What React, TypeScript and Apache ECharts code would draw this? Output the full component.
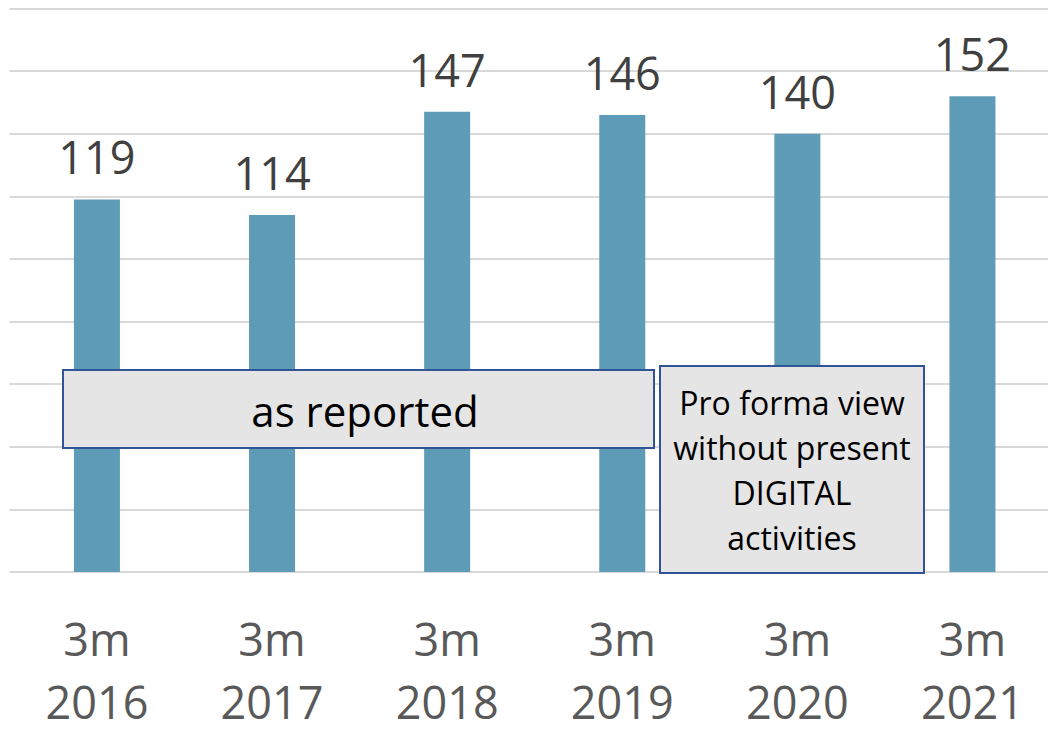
import React, { useEffect, useRef } from "react";
import * as echarts from "echarts";

const periods = ["3m", "3m", "3m", "3m", "3m", "3m"];
const years = ["2016", "2017", "2018", "2019", "2020", "2021"];
const values = [119, 114, 147, 146, 140, 152];
const yMax = 180;
const yInterval = 20;
const boxAsReported = "as reported";
const boxProForma = "Pro forma view\nwithout present\nDIGITAL\nactivities";

const categories = years.map((y, i) => `${periods[i]}\n${y}`);

const FONT = "'Open Sans', 'Noto Sans', sans-serif";

export default function App() {
  const ref = useRef<HTMLDivElement>(null);
  useEffect(() => {
    document.body.style.margin = "0";
    const chart = echarts.init(ref.current!, null, { renderer: "svg" });
    chart.setOption({
      animation: false,
      backgroundColor: "#ffffff",
      grid: {
        left: 9.4,
        right: -12,
        top: 8.5,
        bottom: 162,
        containLabel: false,
        outerBoundsMode: "none",
      },
      xAxis: {
        type: "category",
        data: categories,
        axisLine: { show: false },
        axisTick: { show: false },
        axisLabel: {
          color: "#595959",
          fontFamily: FONT,
          fontSize: 45,
          margin: 25,
          interval: 0,
          formatter: (v: string) => {
            const [p, y] = v.split("\n");
            return `{a|${p}}\n{b|${y}}`;
          },
          rich: {
            a: { fontSize: 45, lineHeight: 82, color: "#595959", fontFamily: FONT },
            b: { fontSize: 45, lineHeight: 44, color: "#595959", fontFamily: FONT },
          },
        },
      },
      yAxis: {
        type: "value",
        min: 0,
        max: yMax,
        interval: yInterval,
        axisLabel: { show: false },
        axisLine: { show: false },
        axisTick: { show: false },
        splitLine: { lineStyle: { color: "#d9d9d9", width: 2 } },
      },
      series: [
        {
          type: "bar",
          data: values,
          barWidth: 46,
          itemStyle: { color: "#5e9bb7" },
          label: {
            show: true,
            position: "top",
            distance: 20,
            color: "#404040",
            fontFamily: FONT,
            fontSize: 45,
          },
        },
      ],
      graphic: [
        {
          type: "group",
          z: 100,
          children: [
            {
              type: "rect",
              z: 100,
              shape: { x: 63, y: 370, width: 591, height: 78 },
              style: { fill: "#e5e5e5", stroke: "#2f5597", lineWidth: 2 },
            },
            {
              type: "text",
              z: 101,
              x: 365,
              y: 410,
              style: {
                text: boxAsReported,
                fill: "#000000",
                font: `42px ${FONT}`,
                align: "center",
                verticalAlign: "middle",
              },
            },
            {
              type: "rect",
              z: 100,
              shape: { x: 660, y: 366, width: 264, height: 207 },
              style: { fill: "#e5e5e5", stroke: "#2f5597", lineWidth: 2 },
            },
            {
              type: "text",
              z: 101,
              x: 792,
              y: 470,
              style: {
                text: boxProForma,
                fill: "#000000",
                font: `32px ${FONT}`,
                lineHeight: 45,
                align: "center",
                verticalAlign: "middle",
              },
            },
          ],
        },
      ],
    });
    return () => chart.dispose();
  }, []);
  return <div ref={ref} style={{ width: 1048, height: 734 }} />;
}
